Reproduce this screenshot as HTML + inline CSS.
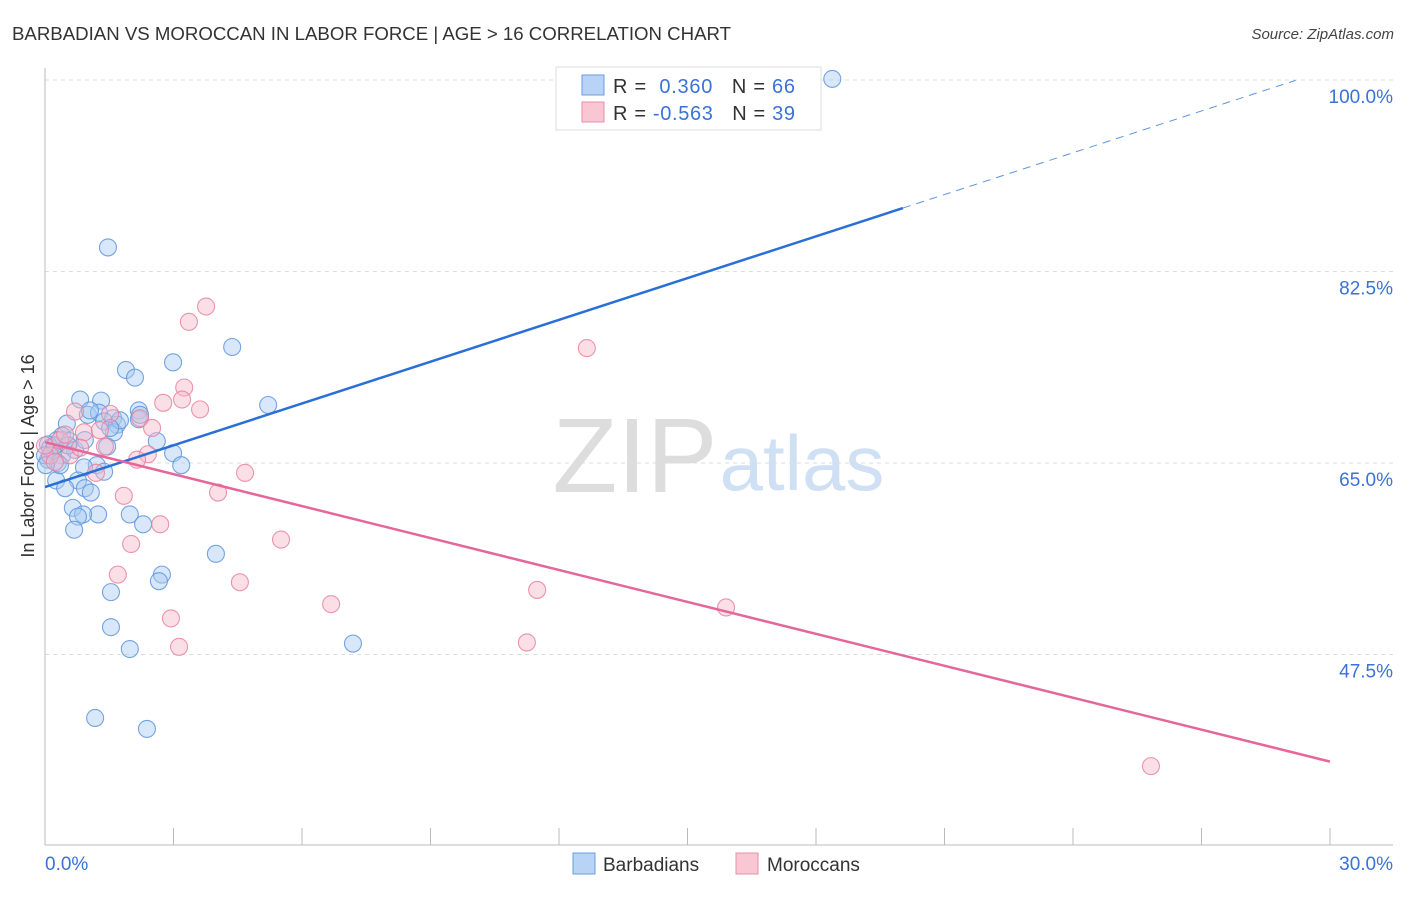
<!DOCTYPE html>
<html><head><meta charset="utf-8"><style>
body{margin:0;background:#fff;font-family:"Liberation Sans",sans-serif;}
svg text{font-family:"Liberation Sans",sans-serif;}
</style></head><body>
<svg id="chart" width="1406" height="892" viewBox="0 0 1406 892">
<text x="12" y="40" font-size="18" fill="#333" textLength="719" lengthAdjust="spacingAndGlyphs">BARBADIAN VS MOROCCAN IN LABOR FORCE | AGE &gt; 16 CORRELATION CHART</text>
<text x="1394" y="39" font-size="15" fill="#444" text-anchor="end" font-style="italic">Source: ZipAtlas.com</text>
<text x="635" y="492" font-size="106" fill="#ddd" text-anchor="middle" font-family="Liberation Serif">ZIP</text>
<text x="802" y="490" font-size="78" fill="#cfe0f5" text-anchor="middle">atlas</text>
<g id="grid"></g>
<g id="marks"></g>
<text transform="translate(34,456) rotate(-90)" font-size="18" fill="#333" text-anchor="middle">In Labor Force | Age &gt; 16</text>
<g>
<rect x="556" y="67" width="265" height="63" fill="#fff" stroke="#ddd"/>
<rect x="582" y="75" width="22" height="20" fill="#b8d3f5" stroke="#6b9de0"/>
<rect x="582" y="102" width="22" height="20" fill="#f9c6d4" stroke="#ea8fa9"/>
<text x="613" y="93" font-size="20" fill="#333" textLength="182" lengthAdjust="spacing">R = <tspan fill="#3a72d6">&#160;0.360</tspan>&#160;&#160;&#160;N = <tspan fill="#3a72d6">66</tspan></text>
<text x="613" y="120" font-size="20" fill="#333" textLength="182" lengthAdjust="spacing">R = <tspan fill="#3a72d6">-0.563</tspan>&#160;&#160;&#160;N = <tspan fill="#3a72d6">39</tspan></text>
</g>
<g>
<rect x="573" y="853" width="22" height="21" fill="#b8d3f5" stroke="#6b9de0"/>
<text x="603" y="871" font-size="19" fill="#333">Barbadians</text>
<rect x="736" y="853" width="22" height="21" fill="#f9c6d4" stroke="#ea8fa9"/>
<text x="767" y="871" font-size="19" fill="#333">Moroccans</text>
</g>
</svg>
<script>
const yTicks=[100,82.5,65,47.5];
const yTickLabels=["100.0%","82.5%","65.0%","47.5%"];
const xTickLabels=["0.0%","30.0%"];
const blueX=[18.38,1.47,4.37,2.99,1.89,2.10,0.82,1.31,5.21,2.19,1.00,1.26,1.59,2.19,0.51,1.38,1.68,1.61,0.40,0.28,0.58,2.61,0.07,1.45,2.99,0.16,0.40,0.07,0.30,1.21,3.18,0.91,1.38,0.77,0.26,0.93,0.47,1.07,0.65,1.24,0.89,1.98,0.77,2.29,0.68,3.99,2.73,2.66,1.54,1.54,7.19,1.98,1.17,2.38,0.12,0.23,0.0,1.05,1.75,0.35,0.70,0.02,0.54,1.52,2.22,0.93];
const blueY=[100.1,84.7,75.6,74.2,73.5,72.8,70.8,70.7,70.3,69.8,69.4,69.6,69.1,69.0,68.6,68.8,68.5,67.8,67.5,67.1,67.0,67.0,66.7,66.5,65.9,66.0,65.7,65.3,65.0,64.8,64.8,64.6,64.2,63.4,63.4,62.7,62.7,62.3,60.9,60.3,60.3,60.3,60.1,59.4,58.9,56.7,54.8,54.2,53.2,50.0,48.5,48.0,41.7,40.7,66.4,66.6,65.7,69.8,68.9,64.8,66.2,64.8,66.6,68.2,69.4,67.1];
const pinkX=[3.76,3.36,12.65,3.25,2.76,3.20,3.62,0.70,1.52,2.22,0.91,2.50,1.40,2.40,2.15,1.19,4.67,4.04,1.84,2.69,2.01,5.51,1.70,4.55,6.68,11.49,2.94,15.90,3.13,11.25,25.82,0.35,0.12,0.58,0.23,1.28,0.82,0.0,0.47];
const pinkY=[79.3,77.9,75.5,71.9,70.5,70.8,69.9,69.7,69.5,69.1,67.8,68.2,66.5,65.8,65.3,64.1,64.1,62.3,62.0,59.4,57.6,58.0,54.8,54.1,52.1,53.4,50.8,51.8,48.2,48.6,37.3,67.1,65.7,65.7,65.1,68.0,66.4,66.6,67.6];
const blueTrend=[62.8,1.273];
const pinkTrend=[66.9,-0.973];
const NS="http://www.w3.org/2000/svg";
const X=v=>45+v*1285/30;
const Y=v=>80+(100-v)*191.5/17.5;
function mk(tag,attrs,parent){const e=document.createElementNS(NS,tag);for(const k in attrs)e.setAttribute(k,attrs[k]);parent.appendChild(e);return e;}
const grid=document.getElementById('grid'),marks=document.getElementById('marks');
yTicks.forEach((t,i)=>{
 const l=mk('line',{x1:45,x2:1393,y1:Y(t),y2:Y(t),stroke:'#ddd','stroke-dasharray':'4,4'},grid);
 
 
 const tx=mk('text',{x:1393,y:Y(t)+23,'font-size':19,fill:'#3a72d6','text-anchor':'end'},grid);
 tx.textContent=yTickLabels[i];
 
 
});
const a1=mk('line',{x1:45,x2:45,y1:68,y2:845,stroke:'#bbb'},grid);


const a2=mk('line',{x1:45,x2:1393,y1:845,y2:845,stroke:'#bbb'},grid);


for(let i=0;i<=10;i++){const t=mk('line',{x1:X(i*3),x2:X(i*3),y1:828,y2:845,stroke:'#bbb'},grid);
 
 }
[[0,'start',45],[30,'end',1393]].forEach((d,i)=>{const t=mk('text',{x:d[2],y:870,'font-size':19,fill:'#3a72d6','text-anchor':d[1]},grid);t.textContent=xTickLabels[i];
 
 });
function pts(xs,ys,fill,stroke,name){xs.forEach((x,i)=>{const c=mk('circle',{cx:X(x),cy:Y(ys[i]),r:8.5,fill:fill,'fill-opacity':0.45,stroke:stroke,'stroke-width':1.1,'stroke-opacity':0.85},marks);
 
 });}
pts(blueX,blueY,'#a9c9f2','#5d95dd','barbadian-point');
pts(pinkX,pinkY,'#f6b9ca','#e8839f','moroccan-point');
const bl=mk('line',{x1:X(0),y1:Y(blueTrend[0]),x2:X(20.03),y2:Y(blueTrend[0]+blueTrend[1]*20.03),stroke:'#2a6fd6','stroke-width':2.5},marks);


const bd=mk('line',{x1:X(20.03),y1:Y(blueTrend[0]+blueTrend[1]*20.03),x2:X(29.2),y2:Y(blueTrend[0]+blueTrend[1]*29.2),stroke:'#5d95dd','stroke-width':1,'stroke-dasharray':'8,6'},marks);


const pl=mk('line',{x1:X(0),y1:Y(pinkTrend[0]),x2:X(30),y2:Y(pinkTrend[0]+pinkTrend[1]*30),stroke:'#e5679a','stroke-width':2.5},marks);


</script>
</body></html>
